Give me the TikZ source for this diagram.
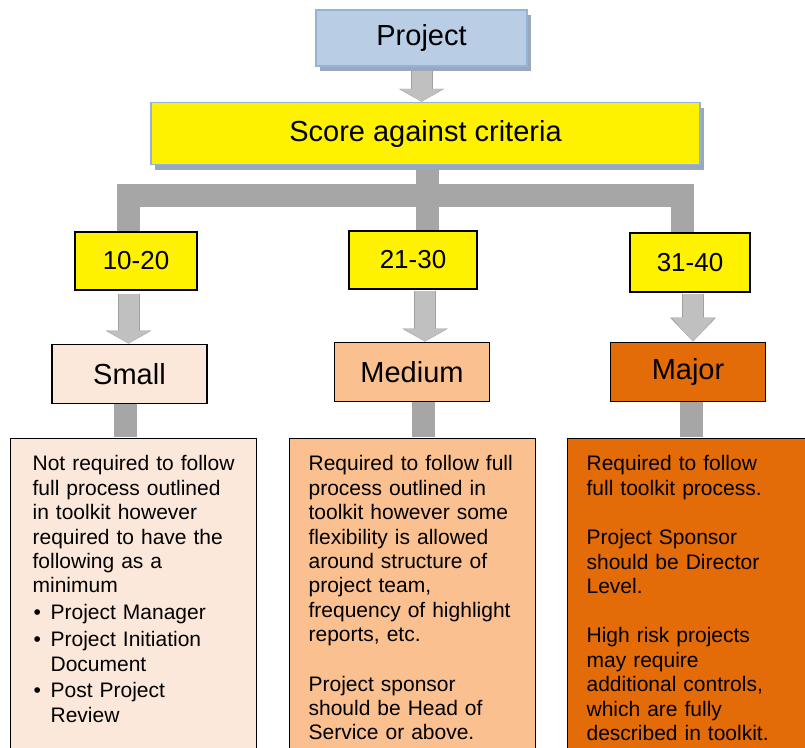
\documentclass[tikz,border=0pt]{standalone}
\usepackage{fontspec}
\setmainfont{Liberation Sans}
\usetikzlibrary{shapes, arrows.meta, positioning, calc, shadows}

\definecolor{projblue}{HTML}{B9CDE5}
\definecolor{edgeblue}{HTML}{95B3D7}
\definecolor{shadeblue}{HTML}{9AA8BC}
\definecolor{smallfill}{HTML}{FCE8DA}
\definecolor{mediumfill}{HTML}{FAC090}
\definecolor{majorfill}{HTML}{E36C09}
\definecolor{busgray}{HTML}{A6A6A6}
\definecolor{arrowgray}{HTML}{C0C0C0}
\definecolor{arrowedge}{HTML}{A0A0A0}

\begin{document}
\begin{tikzpicture}[
		x=1pt, y=1pt,
		% estilos de las cajas
		headbox/.style = {draw=edgeblue, line width=1.5pt, rectangle, align=center, font=\fontsize{29}{34}\selectfont, drop shadow={shadow xshift=4pt, shadow yshift=-5pt, fill=shadeblue, opacity=1}},
		rangebox/.style = {draw, line width=1.2pt, fill=yellow, rectangle, minimum width=122pt, minimum height=58pt, font=\fontsize{26}{30}\selectfont},
		sizebox/.style = {draw, line width=1.2pt, rectangle, minimum width=155pt, minimum height=59pt, font=\fontsize{29}{34}\selectfont},
		notebox/.style = {draw, line width=1.2pt, rectangle, anchor=north west, text width=208pt, inner xsep=19pt, inner ysep=17pt, text depth=300pt, align=left, font=\fontsize{21}{24.4}\selectfont},
		bus/.style = {draw=busgray, line width=23pt, shorten <=0.6pt, shorten >=0.6pt},
		fatarrow/.style = {draw=arrowgray, line width=20pt, -{Triangle[length=#1, width=43pt, line width=0pt]}, preaction={draw=arrowedge, line width=22pt, -{Triangle[length=#1, width=46pt, line width=0pt]}}},
		fatarrow/.default = 13pt
		]
		
		\useasboundingbox (0,0) rectangle (805,-747);
		\clip (0,0) rectangle (805,-747);
		
		% --- CABECERA ---
		\node [headbox, fill=projblue, minimum width=211pt, minimum height=56pt] (project) at (421.5,-38) {Project};
		\node [headbox, fill=yellow, minimum width=549pt, minimum height=62pt, below=35pt of project, xshift=4pt] (score) {Score against criteria};
		
		% --- PUNTUACIONES ---
		\node [rangebox] (r_low) at (136,-261) {10-20};
		\node [rangebox, minimum width=128pt] (r_mid) at (413,-260) {21-30};
		\node [rangebox, minimum width=120pt, minimum height=59pt] (r_high) at (690,-262.5) {31-40};
		
		% --- TAMAÑOS ---
		\node [sizebox, fill=smallfill, below=53pt of r_low, xshift=-6.5pt] (small) {Small};
		\node [sizebox, fill=mediumfill, below=52pt of r_mid, xshift=-1pt] (medium) {Medium};
		\node [sizebox, fill=majorfill, below=49pt of r_high, xshift=-2pt] (major) {Major};
		
		% --- TEXTOS ---
		\node [notebox, fill=smallfill] (small_txt) at (10,-438) {\hspace*{3pt}Not required to follow\\
			\hspace*{3pt}full process outlined\\
			\hspace*{3pt}in toolkit however\\
			\hspace*{3pt}required to have the\\
			\hspace*{3pt}following as a\\
			\hspace*{3pt}minimum\\[2.5pt]
			\makebox[21pt][l]{\hspace{4pt}\textbullet}Project Manager\\[2.5pt]
			\makebox[21pt][l]{\hspace{4pt}\textbullet}Project Initiation\\
			\hspace*{21pt}Document\\[2.5pt]
			\makebox[21pt][l]{\hspace{4pt}\textbullet}Post Project\\
			\hspace*{21pt}Review};
		\node [notebox, fill=mediumfill] (medium_txt) at (289,-438) {Required to follow full\\
			process outlined in\\
			toolkit however some\\
			flexibility is allowed\\
			around structure of\\
			project team,\\
			frequency of highlight\\
			reports, etc.\\[25pt]
			Project sponsor\\
			should be Head of\\
			Service or above.};
		\node [notebox, fill=majorfill] (major_txt) at (567,-438) {Required to follow\\
			full toolkit process.\\[25pt]
			Project Sponsor\\
			should be Director\\
			Level.\\[25pt]
			High risk projects\\
			may require\\
			additional controls,\\
			which are fully\\
			described in toolkit.};
		
		% --- BARRAS ---
		\coordinate (bus_l) at (128.5,-195.5);
		\coordinate (bus_m) at (427,-195.5);
		\coordinate (bus_r) at (682.5,-195.5);
		\draw [bus] (bus_l |- r_low.north) -- (bus_l) -- (bus_r) -- (bus_r |- r_high.north);
		\draw [bus, shorten <=5pt] (bus_m |- score.south) -- (bus_m |- r_mid.north);
		
		\draw [bus] ($(small.south)+(-4,0)$) -- ($(small.south |- small_txt.north)+(-4,0)$);
		\draw [bus] ($(medium.south)+(11,0)$) -- ($(medium.south |- medium_txt.north)+(11,0)$);
		\draw [bus] ($(major.south)+(3.5,0)$) -- ($(major.south |- major_txt.north)+(3.5,0)$);
		
		% --- FLECHAS ---
		\draw [fatarrow, shorten <=4pt] (project.south) -- (project.south |- score.north);
		\draw [fatarrow, shorten <=3pt] ($(r_low.south)+(-7.5,0)$) -- ($(r_low.south |- small.north)+(-7.5,0)$);
		\draw [fatarrow, shorten <=1pt] ($(r_mid.south)+(12,0)$) -- ($(r_mid.south |- medium.north)+(12,0)$);
		\draw [fatarrow=24pt, shorten <=1pt] ($(r_high.south)+(3,0)$) -- ($(r_high.south |- major.north)+(3,0)$);
		
	\end{tikzpicture}
\end{document}
